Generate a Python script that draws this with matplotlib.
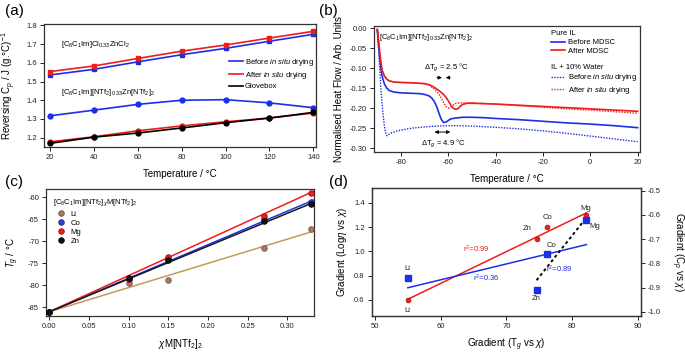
import matplotlib
matplotlib.use('Agg')
import matplotlib.pyplot as plt
import numpy as np
from matplotlib.lines import Line2D

plt.rcParams['font.family'] = ['Liberation Sans', 'DejaVu Sans']
plt.rcParams['mathtext.fontset'] = 'custom'
plt.rcParams['mathtext.rm'] = 'Liberation Sans'
plt.rcParams['mathtext.it'] = 'Liberation Sans:italic'
plt.rcParams['axes.unicode_minus'] = False
plt.rcParams['xtick.direction'] = 'out'
plt.rcParams['ytick.direction'] = 'out'

BLUE = '#1c2fe8'
RED = '#ee1c1c'
FRAME = '#333333'

# ---- (a) reversing Cp vs temperature
temp_a = [20, 40, 60, 80, 100, 120, 140]
cl_before = [1.535, 1.565, 1.605, 1.643, 1.677, 1.715, 1.752]
cl_after = [1.553, 1.583, 1.623, 1.662, 1.695, 1.732, 1.768]
ntf_before = [1.317, 1.347, 1.378, 1.400, 1.403, 1.386, 1.360]
ntf_after = [1.178, 1.205, 1.237, 1.263, 1.285, 1.305, 1.332]
glovebox = [1.170, 1.203, 1.225, 1.252, 1.280, 1.305, 1.335]

# ---- (b) heat flow traces
t_blue = [-90, -89.5, -89, -88.5, -88, -87, -86, -85, -83, -80, -76, -72, -70, -68, -67, -66,
          -65, -64, -63, -62, -61, -60, -59, -57, -54, -50, -45, -40, -30, -20, -10, 0, 10, 20]
hf_blue = [-0.005, -0.04, -0.075, -0.10, -0.12, -0.14, -0.150, -0.156, -0.160, -0.162, -0.163,
           -0.164, -0.166, -0.170, -0.175, -0.183, -0.195, -0.212, -0.228, -0.236, -0.235,
           -0.231, -0.227, -0.225, -0.223, -0.223, -0.224, -0.226, -0.229, -0.233, -0.237,
           -0.240, -0.244, -0.249]
t_red = [-90, -89.5, -89, -88.5, -88, -87, -86, -85, -83, -80, -75, -70, -68, -66, -64, -62,
         -61, -60, -59, -58, -57, -56, -55, -54, -52, -50, -40, -30, -20, -10, 0, 10, 20]
hf_red = [-0.003, -0.03, -0.06, -0.085, -0.105, -0.120, -0.128, -0.132, -0.135, -0.136, -0.137,
          -0.139, -0.142, -0.148, -0.156, -0.166, -0.173, -0.182, -0.192, -0.200, -0.203,
          -0.202, -0.196, -0.191, -0.188, -0.188, -0.190, -0.193, -0.196, -0.199, -0.202,
          -0.205, -0.208]
t_blue_w = [-90, -89.5, -89, -88.5, -88, -87.5, -87, -86.5, -86, -85.5, -85, -84, -82, -80,
            -75, -70, -65, -60, -55, -50, -40, -30, -20, -10, 0, 10, 20]
hf_blue_w = [-0.005, -0.05, -0.10, -0.15, -0.19, -0.22, -0.245, -0.262, -0.269, -0.268, -0.265,
             -0.262, -0.258, -0.255, -0.250, -0.247, -0.245, -0.244, -0.244, -0.245, -0.248,
             -0.252, -0.257, -0.263, -0.270, -0.277, -0.284]
t_red_w = [-90, -89.5, -89, -88.5, -88, -87, -86, -85, -83, -80, -75, -70, -68, -66, -64, -63,
           -62, -61, -60, -59, -58, -57, -55, -50, -40, -30, -20, -10, 0, 10, 20]
hf_red_w = [-0.003, -0.03, -0.06, -0.085, -0.105, -0.120, -0.128, -0.132, -0.135, -0.136,
            -0.137, -0.139, -0.143, -0.152, -0.165, -0.175, -0.186, -0.196, -0.200, -0.198,
            -0.193, -0.189, -0.187, -0.187, -0.190, -0.194, -0.198, -0.202, -0.205, -0.209,
            -0.213]

# ---- (c) Tg vs mole fraction
chi = [0.0, 0.10, 0.15, 0.27, 0.33]
tg_li = [-86.0, -79.5, -78.7, -71.6, -67.2]
tg_co = [-86.0, -78.6, -73.9, -65.0, -61.0]
tg_mg = [-86.0, -78.6, -73.6, -64.2, -58.9]
tg_zn = [-86.0, -78.3, -74.3, -65.3, -61.6]

# ---- (d) gradient correlations
metals = ['Li', 'Zn', 'Co', 'Mg']
grad_tg = [55.0, 74.6, 76.2, 82.2]
grad_logeta = [0.60, 1.10, 1.20, 1.30]
grad_cp = [-0.862, -0.912, -0.762, -0.622]

fig = plt.figure(figsize=(6.85, 3.54), dpi=100)
TS = 5.5
LS = 7


def style(ax):
    for s in ax.spines.values():
        s.set_color(FRAME)
        s.set_linewidth(0.9)
    ax.tick_params(labelsize=TS, length=3, width=0.7, colors='#222222', pad=2)


# (a)
ax = fig.add_axes([0.0647, 0.5856, 0.3966, 0.3466])
ax.plot(temp_a, cl_before, color=BLUE, lw=1.2, marker='s', ms=3.5)
ax.plot(temp_a, cl_after, color=RED, lw=1.2, marker='s', ms=3.5)
ax.plot(temp_a, ntf_before, color=BLUE, lw=1.2, marker='o', ms=3.5)
ax.plot(temp_a, ntf_after, color=RED, lw=1.2, marker='o', ms=3.5)
ax.plot(temp_a, glovebox, color='black', lw=1.2, marker='o', ms=3.5)
ax.set_xlim(17.4, 141.2)
ax.set_ylim(1.152, 1.807)
ax.set_xticks(temp_a)
ax.set_yticks([1.2, 1.3, 1.4, 1.5, 1.6, 1.7, 1.8])
ax.set_xlabel('Temperature / °C', fontsize=LS, labelpad=6)
ax.set_ylabel('Reversing C$_p$ / J (g.°C)$^{-1}$', fontsize=LS, labelpad=6)
ax.text(0.06, 0.82, '[C$_8$C$_1$Im]Cl$_{0.33}$ZnCl$_2$', transform=ax.transAxes, fontsize=5.5)
ax.text(0.06, 0.43, '[C$_8$C$_1$Im][NTf$_2$]$_{0.33}$Zn[NTf$_2$]$_2$', transform=ax.transAxes,
        fontsize=5.5)
hands = [Line2D([], [], color=BLUE, lw=1.2), Line2D([], [], color=RED, lw=1.2),
         Line2D([], [], color='black', lw=1.2)]
ax.legend(hands, ['Before $\\it{in\\ situ}$ drying', 'After $\\it{in\\ situ}$ drying', 'Glovebox'],
          loc='upper left', bbox_to_anchor=(0.68, 0.73), frameon=False, fontsize=5.5,
          handlelength=1.8, handletextpad=0.3, labelspacing=0.25, borderaxespad=0, borderpad=0)
style(ax)

# (b)
ax = fig.add_axes([0.546, 0.5715, 0.3883, 0.355])
ax.plot(t_blue_w, hf_blue_w, color=BLUE, lw=1.0, ls=(0, (1, 1)))
ax.plot(t_red_w, hf_red_w, color=RED, lw=1.0, ls=(0, (1, 1)))
ax.plot(t_blue, hf_blue, color=BLUE, lw=1.2)
ax.plot(t_red, hf_red, color=RED, lw=1.2)
ax.set_xlim(-91.4, 21)
ax.set_ylim(-0.309, 0.005)
ax.set_xticks([-80, -60, -40, -20, 0, 20])
ax.set_yticks([0.0, -0.05, -0.10, -0.15, -0.20, -0.25, -0.30])
ax.yaxis.set_major_formatter(matplotlib.ticker.FormatStrFormatter('%.2f'))
ax.set_xlabel('Temperature / °C', fontsize=LS, labelpad=6)
ax.set_ylabel('Normalised Heat Flow / Arb. Units', fontsize=LS, labelpad=4)
ax.text(0.02, 0.955, '[C$_8$C$_1$Im][NTf$_2$]$_{0.33}$Zn[NTf$_2$]$_2$', transform=ax.transAxes,
        fontsize=5.5, va='top')
ax.text(-61, -0.097, '$\\Delta$T$_g$ = 2.5 °C', fontsize=5.5, ha='center', va='center')
ax.annotate('', xy=(-61.5, -0.124), xytext=(-66, -0.124),
            arrowprops=dict(arrowstyle='-|>', color='black', lw=0.7, mutation_scale=5))
ax.annotate('', xy=(-62.3, -0.124), xytext=(-58, -0.124),
            arrowprops=dict(arrowstyle='-|>', color='black', lw=0.7, mutation_scale=5))
ax.annotate('', xy=(-67, -0.260), xytext=(-58, -0.260),
            arrowprops=dict(arrowstyle='<|-|>', color='black', lw=0.7, mutation_scale=5))
ax.text(-62.2, -0.288, '$\\Delta$T$_g$ = 4.9 °C', fontsize=5.5, ha='center', va='center')
h1 = [Line2D([], [], color=BLUE, lw=1.2), Line2D([], [], color=RED, lw=1.2)]
leg1 = ax.legend(h1, ['Before MDSC', 'After MDSC'], title='Pure IL', alignment='left',
                 loc='upper left', bbox_to_anchor=(0.665, 0.965), frameon=False, fontsize=5.5,
                 title_fontsize=5.5, handlelength=1.8, handletextpad=0.4, labelspacing=0.2,
                 borderaxespad=0, borderpad=0)
ax.add_artist(leg1)
h2 = [Line2D([], [], color=BLUE, lw=1.0, ls=(0, (1, 1))),
      Line2D([], [], color=RED, lw=1.0, ls=(0, (1, 1)))]
ax.legend(h2, ['Before $\\it{in\\ situ}$ drying', 'After $\\it{in\\ situ}$ drying'],
          title='IL + 10% Water', alignment='left', loc='upper left',
          bbox_to_anchor=(0.665, 0.70), frameon=False, fontsize=5.5, title_fontsize=5.5,
          handlelength=1.8, handletextpad=0.4, labelspacing=0.2, borderaxespad=0, borderpad=0)
style(ax)

# (c)
ax = fig.add_axes([0.0672, 0.1082, 0.3912, 0.3579])
xfit = np.array([0.0, 0.333])
series_c = [(tg_li, grad_tg[0], '#c49a5c', '#a87868', '#7a5040', 'Li'),
            (tg_co, grad_tg[2], BLUE, '#2a44d8', '#1a2a90', 'Co'),
            (tg_mg, grad_tg[3], RED, '#e82020', '#a01010', 'Mg'),
            (tg_zn, grad_tg[1], '#1a1a1a', '#111111', '#000000', 'Zn')]
for tg, g, lc, fc, ec, lab in series_c:
    ax.plot(xfit, tg[0] + g * xfit, color=lc, lw=1.1, zorder=2)
for tg, g, lc, fc, ec, lab in series_c:
    ax.plot(chi, tg, ls='none', marker='o', ms=4, mfc=fc, mec=ec, mew=0.6, label=lab, zorder=3)
ax.set_xlim(-0.0042, 0.3336)
ax.set_ylim(-86.9, -58.1)
ax.set_xticks([0.0, 0.05, 0.10, 0.15, 0.20, 0.25, 0.30])
ax.xaxis.set_major_formatter(matplotlib.ticker.FormatStrFormatter('%.2f'))
ax.set_yticks([-60, -65, -70, -75, -80, -85])
ax.set_xlabel('$\\chi$M[NTf$_2$]$_2$', fontsize=LS, labelpad=5)
ax.set_ylabel('$T_g$ / °C', fontsize=LS, labelpad=5)
ax.text(0.025, 0.88, '[C$_8$C$_1$Im][NTf$_2$]$_\\chi$M[NTf$_2$]$_2$', transform=ax.transAxes,
        fontsize=5.5)
ax.legend(loc='upper left', bbox_to_anchor=(0.04, 0.83), frameon=False, fontsize=5.5,
          handlelength=1.0, handletextpad=0.8, labelspacing=0.2, borderaxespad=0, borderpad=0)
style(ax)

# (d)
ax = fig.add_axes([0.5426, 0.1082, 0.3932, 0.3599])
ax2 = ax.twinx()
gx = np.array(grad_tg)
p_red = np.polyfit(gx, grad_logeta, 1)
p_blue = np.polyfit(gx, grad_cp, 1)
p_dot = np.polyfit(gx[1:], grad_cp[1:], 1)
xr = np.array([gx.min(), gx.max()])
xd = np.array([gx[1], gx[3]])
ax.plot(xr, np.polyval(p_red, xr), color=RED, lw=1.1)
ax.plot(gx, grad_logeta, ls='none', marker='o', ms=3.5, color=RED, mec='#b01010', mew=0.5)
ax2.plot(xr, np.polyval(p_blue, xr), color=BLUE, lw=1.1)
ax2.plot(xd, np.polyval(p_dot, xd), color='black', lw=1.4, ls=(0, (1.5, 1.5)))
ax2.plot(gx, grad_cp, ls='none', marker='s', ms=4, color=BLUE)
ax.set_xlim(49.5, 90.5)
ax.set_ylim(0.468, 1.521)
ax2.set_ylim(-1.0165, -0.490)
ax.set_xticks([50, 60, 70, 80, 90])
ax.set_yticks([0.6, 0.8, 1.0, 1.2, 1.4])
ax2.set_yticks([-0.5, -0.6, -0.7, -0.8, -0.9, -1.0])
ax.set_xlabel('Gradient (T$_g$ vs $\\chi$)', fontsize=LS, labelpad=5)
ax.set_ylabel('Gradient (Log$\\eta$ vs $\\chi$)', fontsize=LS, labelpad=4)
ax2.set_ylabel('Gradient (C$_p$ vs $\\chi$)', fontsize=LS, rotation=270, va='bottom',
               labelpad=6)
ax.text(65.5, 1.02, 'r$^2$=0.99', color=RED, fontsize=5.5, ha='center', va='center')
ax.text(67.0, 0.78, 'r$^2$=0.36', color=BLUE, fontsize=5.5, ha='center', va='center')
ax.text(78.0, 0.85, 'r$^2$=0.89', color=BLUE, fontsize=5.5, ha='center', va='center')
red_lab = [(55.0, 0.515), (73.1, 1.185), (76.3, 1.28), (82.1, 1.356)]
blue_lab = [(55.0, 0.855), (74.5, 0.607), (76.8, 1.047), (83.5, 1.205)]
for m, (lx, ly), (bx, by) in zip(metals, red_lab, blue_lab):
    ax.text(lx, ly, m, fontsize=5.5, ha='center', va='center', color='#222222')
    ax.text(bx, by, m, fontsize=5.5, ha='center', va='center', color='#222222')
style(ax)
style(ax2)

fig.text(0.008, 0.99, '(a)', fontsize=11, va='top')
fig.text(0.465, 0.99, '(b)', fontsize=11, va='top')
fig.text(0.008, 0.505, '(c)', fontsize=11, va='top')
fig.text(0.481, 0.505, '(d)', fontsize=11, va='top')

fig.savefig('out.png', dpi=100)
